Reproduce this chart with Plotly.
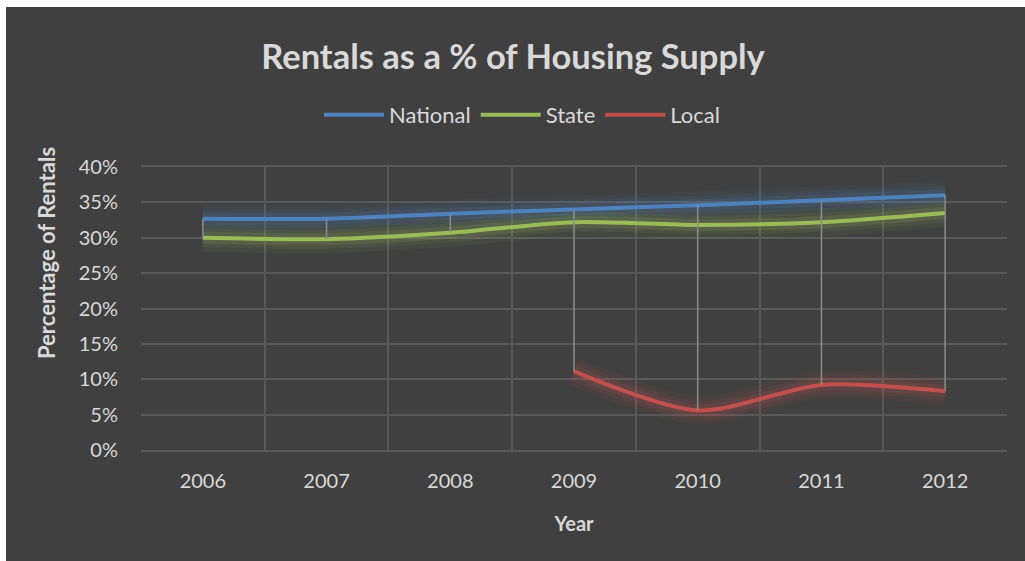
import plotly.graph_objects as go

years = ["2006", "2007", "2008", "2009", "2010", "2011", "2012"]
national = [32.7, 32.7, 33.4, 34.0, 34.6, 35.3, 36.0]
state = [30.0, 29.8, 30.7, 32.2, 31.8, 32.2, 33.5]
local = [None, None, None, 11.1, 5.6, 9.2, 8.3]
y_ticks = [0, 5, 10, 15, 20, 25, 30, 35, 40]
y_tick_labels = [f"{v}%" for v in y_ticks]

series = [
    ("National", national, "#4f81bd"),
    ("State", state, "#9bbb59"),
    ("Local", local, "#c0504d"),
]

FONT = "Lato, Open Sans, sans-serif"
TXT = "#d9d9d9"

fig = go.Figure()

# glow layers
for name, vals, col in series:
    for w, op in [(28, 0.06), (19, 0.09), (12, 0.15)]:
        fig.add_trace(go.Scatter(
            x=years, y=vals, mode="lines", line=dict(color=col, width=w, shape="spline", smoothing=0.8),
            opacity=op, showlegend=False, hoverinfo="skip"))

# main lines
for name, vals, col in series:
    fig.add_trace(go.Scatter(
        x=years, y=vals, mode="lines", name=name,
        line=dict(color=col, width=4, shape="spline", smoothing=0.8)))

# high-low lines
hx, hy = [], []
for i, yr in enumerate(years):
    vals = [s[1][i] for s in series if s[1][i] is not None]
    hx += [yr, yr, None]
    hy += [max(vals), min(vals), None]
fig.add_trace(go.Scatter(x=hx, y=hy, mode="lines", line=dict(color="#8c8c8c", width=1.5),
                         showlegend=False, hoverinfo="skip"))

W, H = 1025, 561
L, R, T, B = 141, 18, 167, 111
pw, ph = W - L - R, H - T - B

fig.add_shape(type="rect", xref="paper", yref="paper",
              x0=(6 - L) / pw, x1=(W + 5 - L) / pw,
              y0=(H - B - (H + 5)) / ph, y1=(H - B - 7) / ph,
              fillcolor="#404040", line=dict(width=0), layer="below")

fig.add_annotation(text="<b>Percentage of Rentals</b>", textangle=-90,
                   xref="paper", yref="paper", x=(46 - L) / pw, y=(H - B - 253) / ph,
                   xanchor="center", yanchor="middle", showarrow=False,
                   font=dict(size=22, color=TXT, family=FONT))

fig.update_layout(
    width=W, height=H,
    margin=dict(l=L, r=R, t=T, b=B),
    paper_bgcolor="#ffffff",
    plot_bgcolor="#404040",
    font=dict(family=FONT, color=TXT, size=20),
    title=dict(text="<b>Rentals as a % of Housing Supply</b>", x=513 / W, xref="container",
               xanchor="center", y=1 - 57 / H, yanchor="middle",
               font=dict(size=34.5, color=TXT, family=FONT)),
    legend=dict(orientation="h", x=522 / W, xref="container", xanchor="center",
                y=1 - 115 / H, yref="container", yanchor="middle",
                font=dict(size=22, color=TXT), bgcolor="rgba(0,0,0,0)",
                itemwidth=60, traceorder="normal"),
    showlegend=True,
)

fig.update_xaxes(
    type="category", categoryorder="array", categoryarray=years, range=[-0.5, 6.5],
    tickson="boundaries", showgrid=True, gridcolor="#585858", gridwidth=1.5,
    showline=True, mirror=True, linecolor="#585858", linewidth=1.5,
    ticks="", tickfont=dict(size=20, color=TXT), ticklabelstandoff=12,
    title=dict(text="<b>Year</b>", font=dict(size=20, color=TXT), standoff=26),
    zeroline=False,
)
fig.update_yaxes(
    range=[0, 40], tickvals=y_ticks, ticktext=y_tick_labels,
    showgrid=True, gridcolor="#585858", gridwidth=1.5,
    zeroline=False, showline=False, ticks="",
    tickfont=dict(size=20, color=TXT), ticklabelstandoff=22,
)

fig.write_html("out.html", post_script="document.body.style.margin='0';",
               config={"displayModeBar": False})
